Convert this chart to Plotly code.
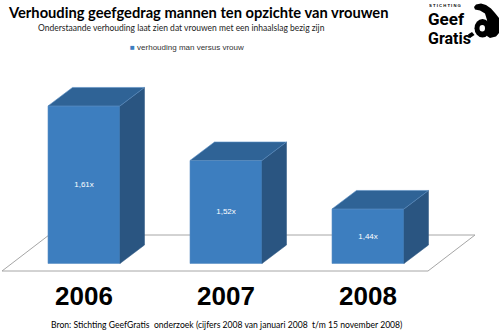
import plotly.graph_objects as go

# ---------------- data ----------------
YEARS = ["2006", "2007", "2008"]
VALUES = [1.61, 1.52, 1.44]
SERIES_NAME = "verhouding man versus vrouw"
LABELS = [f"{v:.2f}".replace(".", ",") + "x" for v in VALUES]
TITLE = "Verhouding geefgedrag mannen ten opzichte van vrouwen"
SUBTITLE = "Onderstaande verhouding laat zien dat vrouwen met een inhaalslag bezig zijn"
SOURCE = "Bron: Stichting GeefGratis  onderzoek (cijfers 2008 van januari 2008  t/m 15 november 2008)"

# ---------------- geometry / style ----------------
W, H = 499, 331
X_PX0, X_STEP = 84.0, 142.0          # pixel of first category, pixels per category
BASE, Y_SCALE, Y_BASE_PX = 1.35, 606.0, 263.5
BAR_W = 72.0 / X_STEP
DX = 24.5 / X_STEP
DY = 18.5 / Y_SCALE

FRONT = "#3d7ebf"
TOP = "#2f6396"
SIDE = "#2a5581"
EDGE = "#5b8fc4"

CAL = "Lato, Liberation Sans, sans-serif"
SANS = "Liberation Sans, Arial, sans-serif"
LOGO = "Roboto, Liberation Sans, sans-serif"


def fx(p):
    return (p - X_PX0) / X_STEP


def fy(p):
    return BASE + (Y_BASE_PX - p) / Y_SCALE


xr = [fx(0), fx(W)]
yr = [fy(H), fy(0)]

fig = go.Figure()

# 3D side and top faces derived from the data
for i, v in enumerate(VALUES):
    l, r = i - BAR_W / 2, i + BAR_W / 2
    fig.add_trace(go.Scatter(
        x=[r, r, r + DX, r + DX, r], y=[BASE, v, v + DY, BASE + DY, BASE],
        mode="lines", fill="toself", fillcolor=SIDE,
        line=dict(color=SIDE, width=0.5), hoverinfo="skip", showlegend=False))
    fig.add_trace(go.Scatter(
        x=[l, r, r + DX, l + DX, l], y=[v, v, v + DY, v + DY, v],
        mode="lines", fill="toself", fillcolor=TOP,
        line=dict(color=EDGE, width=0.6), hoverinfo="skip", showlegend=False))

# front faces
fig.add_trace(go.Bar(
    x=list(range(len(VALUES))), y=[v - BASE for v in VALUES], base=BASE,
    width=BAR_W, name=SERIES_NAME,
    marker=dict(color=FRONT, line=dict(color=EDGE, width=0.6)),
    text=LABELS, textposition="inside", insidetextanchor="middle",
    textangle=0, textfont=dict(color="white", size=8, family=SANS),
    hoverinfo="skip", showlegend=False))

annotations = []
# year labels
for i, yr_lbl in enumerate(YEARS):
    annotations.append(dict(x=i, y=fy(296), xref="x", yref="y", text=yr_lbl,
                            showarrow=False, xanchor="center", yanchor="middle",
                            font=dict(size=26, color="black", family=SANS, weight="bold")))

annotations += [
    dict(x=6 / W, y=1 - 12.5 / H, xref="paper", yref="paper", text=f"<b>{TITLE}</b>",
         showarrow=False, xanchor="left", yanchor="middle",
         font=dict(size=14.7, color="black", family=CAL)),
    dict(x=36 / W, y=1 - 28 / H, xref="paper", yref="paper", text=SUBTITLE,
         showarrow=False, xanchor="left", yanchor="middle",
         font=dict(size=8.5, color="#222222", family=CAL)),
    dict(x=128 / W, y=1 - 47 / H, xref="paper", yref="paper",
         text=f'<span style="color:{FRONT}">■</span> {SERIES_NAME}',
         showarrow=False, xanchor="left", yanchor="middle",
         font=dict(size=8, color="#333333", family=SANS)),
    dict(x=49 / W, y=1 - 324.5 / H, xref="paper", yref="paper", text=SOURCE,
         showarrow=False, xanchor="left", yanchor="middle",
         font=dict(size=8.6, color="black", family=CAL)),
    # logo text
    dict(x=445 / W, y=1 - 6 / H, xref="paper", yref="paper", text="<b>S T I C H T I N G</b>",
         showarrow=False, xanchor="center", yanchor="middle", height=5,
         font=dict(size=4.2, color="black", family=SANS)),
    dict(x=426 / W, y=1 - 18.5 / H, xref="paper", yref="paper", text="<b>Geef</b>",
         showarrow=False, xanchor="left", yanchor="middle",
         font=dict(size=17, color="black", family=LOGO)),
    dict(x=426 / W, y=1 - 38.5 / H, xref="paper", yref="paper", text="<b>Gratis</b>",
         showarrow=False, xanchor="left", yanchor="middle",
         font=dict(size=16, color="black", family=LOGO)),
]


def P(pts):
    s = ""
    for k, (a, b) in enumerate(pts):
        s += ("M" if k == 0 else "L") + f"{a / W:.5f},{1 - b / H:.5f} "
    return s + "Z"


def D(pts):
    s = ""
    for k, (a, b) in enumerate(pts):
        s += ("M" if k == 0 else "L") + f"{fx(a):.5f},{fy(b):.5f} "
    return s + "Z"


shapes = [
    # floor, below the bars
    dict(type="path", xref="x", yref="y", layer="below",
         path=D([(2, 271), (428, 271), (475, 235), (49, 235)]),
         fillcolor="white", line=dict(color="#a6a6a6", width=1)),
    # hand icon of the logo
    dict(type="path", xref="paper", yref="paper", layer="above",
         path=P([(474, 7), (476, 4.5), (481, 3.5), (486, 5), (491, 8.5), (495, 13),
                 (499, 18), (499, 33), (496, 36.5), (490, 38), (487, 36), (488, 28),
                 (487, 20), (485, 13.5), (480, 10.5), (475, 9.5)]),
         fillcolor="black", line=dict(width=0)),
    dict(type="circle", xref="paper", yref="paper", layer="above",
         x0=474.5 / W, x1=490.5 / W, y0=1 - 37.5 / H, y1=1 - 19 / H,
         fillcolor="black", line=dict(width=0)),
    dict(type="circle", xref="paper", yref="paper", layer="above",
         x0=479.5 / W, x1=485 / W, y0=1 - 31.5 / H, y1=1 - 25 / H,
         fillcolor="white", line=dict(width=0)),
    dict(type="path", xref="paper", yref="paper", layer="above",
         path=P([(468, 34.5), (472, 32), (474.5, 35), (470, 38)]),
         fillcolor="black", line=dict(width=0)),
]

fig.update_layout(
    width=W, height=H, margin=dict(l=0, r=0, t=0, b=0),
    paper_bgcolor="white", plot_bgcolor="white",
    xaxis=dict(range=xr, visible=False, fixedrange=True),
    yaxis=dict(range=yr, visible=False, fixedrange=True),
    showlegend=False, annotations=annotations, shapes=shapes,
    uniformtext=dict(minsize=8, mode="show"),
)

fig.write_html("out.html")
